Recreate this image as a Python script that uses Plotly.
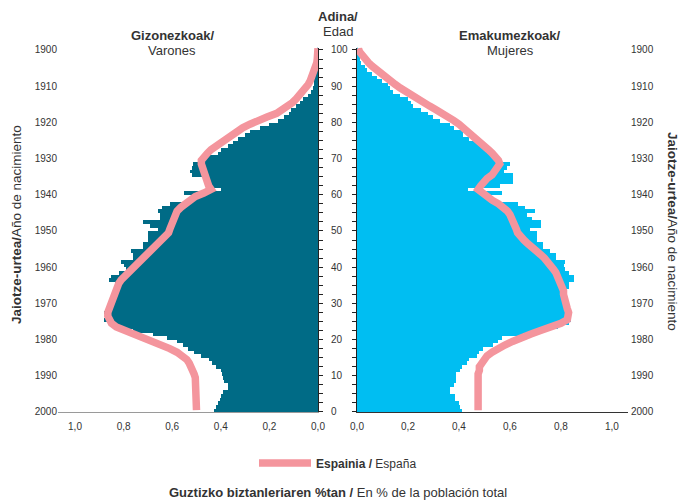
import plotly.graph_objects as go

ages = list(range(101))
years = [2000 - a for a in ages]

male_eus = [0.43, 0.42, 0.41, 0.405, 0.40, 0.39, 0.37, 0.37, 0.385, 0.39,
            0.395, 0.40, 0.42, 0.435, 0.45, 0.48, 0.51, 0.535, 0.555, 0.58,
            0.62, 0.68, 0.76, 0.82, 0.86, 0.88, 0.875, 0.88, 0.87, 0.86,
            0.85, 0.84, 0.835, 0.83, 0.83, 0.835, 0.86, 0.85, 0.82, 0.79,
            0.80, 0.81, 0.76, 0.76, 0.77, 0.72, 0.72, 0.70, 0.70, 0.70,
            0.66, 0.69, 0.72, 0.65, 0.65, 0.66, 0.64, 0.61, 0.52, 0.52,
            0.55, 0.40, 0.46, 0.465, 0.47, 0.52, 0.525, 0.52, 0.515, 0.49,
            0.46, 0.41, 0.40, 0.37, 0.35, 0.33, 0.30, 0.28, 0.24, 0.20,
            0.165, 0.14, 0.12, 0.11, 0.09, 0.075, 0.06, 0.04, 0.03, 0.02,
            0.018, 0.015, 0.012, 0.006, 0.004, 0.003, 0.002, 0.001, 0.001, 0.0005,
            0.0003]

female_eus = [0.41, 0.405, 0.40, 0.385, 0.385, 0.365, 0.365, 0.38, 0.39, 0.39,
              0.39, 0.405, 0.41, 0.43, 0.44, 0.47, 0.48, 0.495, 0.535, 0.555,
              0.57, 0.65, 0.73, 0.79, 0.83, 0.84, 0.84, 0.835, 0.83, 0.825,
              0.82, 0.815, 0.815, 0.82, 0.83, 0.83, 0.85, 0.85, 0.83, 0.815,
              0.81, 0.815, 0.78, 0.78, 0.757, 0.73, 0.73, 0.705, 0.705, 0.705,
              0.68, 0.72, 0.72, 0.685, 0.665, 0.70, 0.66, 0.63, 0.52, 0.52,
              0.57, 0.435, 0.56, 0.61, 0.61, 0.61, 0.575, 0.59, 0.60, 0.565,
              0.535, 0.525, 0.51, 0.49, 0.47, 0.44, 0.415, 0.415, 0.38, 0.365,
              0.325, 0.30, 0.28, 0.25, 0.22, 0.21, 0.20, 0.17, 0.14, 0.13,
              0.12, 0.10, 0.08, 0.06, 0.04, 0.03, 0.015, 0.01, 0.006, 0.003,
              0.002]

male_esp = [0.50, 0.50, 0.50, 0.505, 0.50, 0.50, 0.505, 0.50, 0.50, 0.505,
            0.51, 0.515, 0.52, 0.53, 0.54, 0.555, 0.58, 0.61, 0.645, 0.68,
            0.72, 0.76, 0.80, 0.83, 0.85, 0.86, 0.865, 0.865, 0.86, 0.855,
            0.85, 0.845, 0.84, 0.835, 0.83, 0.82, 0.81, 0.795, 0.78, 0.765,
            0.75, 0.735, 0.72, 0.70, 0.68, 0.665, 0.65, 0.635, 0.62, 0.615,
            0.61, 0.605, 0.60, 0.595, 0.59, 0.58, 0.565, 0.545, 0.525, 0.505,
            0.47, 0.44, 0.45, 0.455, 0.46, 0.47, 0.47, 0.48, 0.48, 0.48,
            0.47, 0.455, 0.44, 0.42, 0.40, 0.38, 0.36, 0.33, 0.31, 0.28,
            0.25, 0.21, 0.17, 0.145, 0.125, 0.105, 0.09, 0.075, 0.06, 0.05,
            0.04, 0.032, 0.025, 0.018, 0.012, 0.008, 0.005, 0.003, 0.002, 0.001,
            0.0]

female_esp = [0.475, 0.475, 0.47, 0.47, 0.47, 0.47, 0.47, 0.47, 0.475, 0.475,
              0.475, 0.48, 0.48, 0.49, 0.50, 0.51, 0.53, 0.55, 0.58, 0.61,
              0.64, 0.68, 0.72, 0.765, 0.80, 0.825, 0.83, 0.83, 0.825, 0.82,
              0.815, 0.815, 0.81, 0.81, 0.805, 0.80, 0.795, 0.79, 0.78, 0.77,
              0.76, 0.75, 0.735, 0.72, 0.70, 0.69, 0.67, 0.655, 0.64, 0.63,
              0.625, 0.62, 0.615, 0.605, 0.60, 0.59, 0.575, 0.555, 0.53, 0.51,
              0.49, 0.475, 0.485, 0.495, 0.51, 0.53, 0.54, 0.55, 0.56, 0.555,
              0.545, 0.53, 0.515, 0.50, 0.485, 0.47, 0.455, 0.44, 0.425, 0.40,
              0.38, 0.36, 0.335, 0.31, 0.285, 0.26, 0.235, 0.21, 0.19, 0.17,
              0.15, 0.13, 0.115, 0.095, 0.075, 0.06, 0.045, 0.03, 0.02, 0.01,
              0.005]

age_ticks = list(range(0, 101, 10))
year_ticks = [str(2000 - a) for a in age_ticks]
pct_ticks = [0.0, 0.2, 0.4, 0.6, 0.8, 1.0]

MALE_COL = "#006B86"
FEMALE_COL = "#00BEF2"
SPAIN_COL = "#F4959D"
TXT = "#333333"
FONT = "Liberation Sans, Arial, sans-serif"

W, H = 683, 500
def px(x):
    return x / W
def py(y):
    return 1 - y / H

yc = [a + 0.5 for a in ages]
YR = [0, 100.6]

fig = go.Figure()
fig.add_trace(go.Bar(x=male_eus, y=yc, orientation="h", width=1,
                     marker=dict(color=MALE_COL, line=dict(width=0)),
                     xaxis="x", yaxis="y", showlegend=False, hoverinfo="skip"))
fig.add_trace(go.Bar(x=female_eus, y=yc, orientation="h", width=1,
                     marker=dict(color=FEMALE_COL, line=dict(width=0)),
                     xaxis="x2", yaxis="y2", showlegend=False, hoverinfo="skip"))
fig.add_trace(go.Scatter(x=male_esp, y=yc, mode="lines",
                         line=dict(color=SPAIN_COL, width=7.5),
                         xaxis="x", yaxis="y3", name="<b>Espainia /</b> España",
                         showlegend=True, hoverinfo="skip"))
fig.add_trace(go.Scatter(x=female_esp, y=yc, mode="lines",
                         line=dict(color=SPAIN_COL, width=7.5),
                         xaxis="x2", yaxis="y4", showlegend=False, hoverinfo="skip"))

tickfont = dict(family=FONT, size=10, color=TXT)
minor_vals = [v * 2.5 for v in range(41)]

fig.update_layout(
    width=W, height=H,
    margin=dict(l=0, r=0, t=0, b=0, autoexpand=False),
    paper_bgcolor="white", plot_bgcolor="rgba(0,0,0,0)",
    separators=",.",
    bargap=0,
    barmode="overlay",
    font=dict(family=FONT, color=TXT),
    xaxis=dict(domain=[px(58), px(318)], range=[1.07, 0], anchor="y",
               tickvals=pct_ticks, tickformat=".1f", showgrid=False, zeroline=False,
               showline=True, linecolor="#9a9a9a", linewidth=1, ticks="",
               tickfont=tickfont, ticklabelstandoff=5, automargin=False, fixedrange=True),
    xaxis2=dict(domain=[px(357), px(628)], range=[0, 1.063], anchor="y2",
                tickvals=pct_ticks, tickformat=".1f", showgrid=False, zeroline=False,
                showline=True, linecolor="#333333", linewidth=1, ticks="",
                tickfont=tickfont, ticklabelstandoff=5, automargin=False, fixedrange=True),
    yaxis=dict(domain=[py(412), py(412 - 3.62 * YR[1])], range=YR, anchor="x",
               side="right", tickvals=age_ticks, ticktext=[str(a) for a in age_ticks],
               showgrid=False, zeroline=False, showline=True, linecolor="#222222",
               linewidth=1, ticks="outside", ticklen=4, tickcolor="#222222",
               minor=dict(tickvals=minor_vals, ticks="outside",
                          ticklen=4, tickcolor="#222222"),
               tickfont=tickfont, ticklabelstandoff=6, automargin=False, fixedrange=True),
    yaxis2=dict(domain=[py(412), py(412 - 3.62 * YR[1])], range=YR, anchor="x2",
                side="left", showticklabels=False, tickvals=age_ticks,
                showgrid=False, zeroline=False, showline=True, linecolor="#222222",
                linewidth=1, ticks="outside", ticklen=4, tickcolor="#222222",
                minor=dict(tickvals=minor_vals, ticks="outside",
                           ticklen=4, tickcolor="#222222"),
                automargin=False, fixedrange=True),
    yaxis3=dict(overlaying="y", anchor="free", position=px(58), side="left",
                range=YR, tickvals=age_ticks, ticktext=year_ticks,
                showgrid=False, zeroline=False, showline=False, ticks="",
                tickfont=tickfont, ticklabelstandoff=1, automargin=False, fixedrange=True),
    yaxis4=dict(overlaying="y2", anchor="free", position=px(628), side="right",
                range=YR, tickvals=age_ticks, ticktext=year_ticks,
                showgrid=False, zeroline=False, showline=False, ticks="",
                tickfont=tickfont, ticklabelstandoff=2, automargin=False, fixedrange=True),
    legend=dict(orientation="h", x=px(254), y=py(463), xanchor="left", yanchor="middle",
                font=dict(family=FONT, size=12, color=TXT), itemwidth=52,
                bgcolor="rgba(0,0,0,0)"),
)

def ann(text, x, y, size=13, angle=0):
    fig.add_annotation(text=text, x=px(x), y=py(y), xref="paper", yref="paper",
                       showarrow=False, xanchor="center", yanchor="middle",
                       textangle=angle, font=dict(family=FONT, size=size, color=TXT))

ann("<b>Adina/</b>", 338, 16)
ann("Edad", 338, 31)
ann("<b>Gizonezkoak/</b>", 172, 36)
ann("Varones", 172, 51)
ann("<b>Emakumezkoak/</b>", 510, 36)
ann("Mujeres", 510, 51)
ann("<b>Jaiotze-urtea/</b>Año de nacimiento", 17, 225, size=13.5, angle=-90)
ann("<b>Jaiotze-urtea/</b>Año de nacimiento", 672, 231, size=13.5, angle=90)
ann("<b>Guztizko biztanleriaren %tan /</b> En % de la población total", 338, 492, size=13)

fig.write_html("out.html",
               config={"displayModeBar": False},
               post_script="document.body.style.margin='0';document.body.style.overflow='hidden';")
